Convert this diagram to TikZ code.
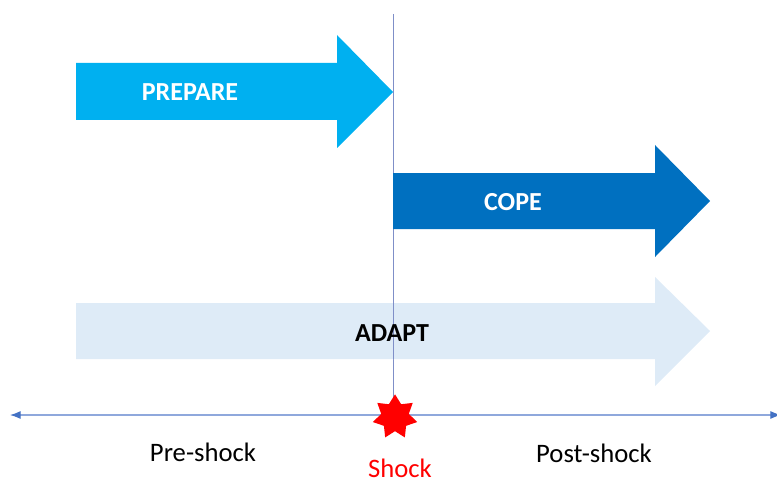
\documentclass[tikz,border=0pt]{standalone}
\usepackage{fontspec}
\setmainfont{Carlito}
\usetikzlibrary{shapes.geometric,arrows.meta}
\definecolor{prep}{HTML}{00B0F0}
\definecolor{cope}{HTML}{0070C0}
\definecolor{adapt}{HTML}{DEEBF7}
\definecolor{axisc}{HTML}{8FA8DC}
\definecolor{vlinec}{HTML}{7F8FC8}
\definecolor{tipc}{HTML}{4472C4}
\tikzset{
  arrowlabel/.style={font=\fontsize{19.5}{22}\selectfont\bfseries, inner sep=0pt},
  axislabel/.style={font=\fontsize{20}{24}\selectfont, inner sep=0pt},
}
\begin{document}
\begin{tikzpicture}[x=0.75pt,y=-0.75pt]
\useasboundingbox (0,0) rectangle (777,481);
% shock line
\coordinate (vtop) at (393,14);
\coordinate (vbot) at (393,415);
\draw[vlinec, line width=0.5pt] (vtop) -- (vbot);
% arrows
\fill[prep] (76,63) -- (337,63) -- (337,35) -- (393,92) -- (337,148) -- (337,120) -- (76,120) -- cycle;
\node[arrowlabel, text=white] (prepare) at (190,92) {PREPARE};
\fill[cope] (393,173) -- (655,173) -- (655,145) -- (710,201) -- (655,257) -- (655,229) -- (393,229) -- cycle;
\node[arrowlabel, text=white] (copel) at (513,202) {COPE};
\fill[adapt] (76,303) -- (655,303) -- (655,277) -- (710,331) -- (655,386) -- (655,359) -- (76,359) -- cycle;
\draw[vlinec, line width=0.5pt] (393,303) -- (393,359);
\node[arrowlabel, text=black] (adaptl) at (392,333) {ADAPT};
% time axis
\coordinate (aL) at (10,415);
\coordinate (aR) at (781,415);
\draw[axisc, line width=0.8pt, {Latex[length=8pt,width=6pt,color=tipc]}-{Latex[length=8pt,width=6pt,color=tipc]}] (aL) -- (aR);
% shock star
\node[star, star points=7, star point ratio=1.6, fill=red, draw=none, minimum size=34pt, inner sep=0pt] (shockstar) at (395,417) {};
% labels
\node[axislabel] (pre) at (203,452) {Pre-shock};
\node[axislabel, text=red] (shock) at (400,468) {Shock};
\node[axislabel] (post) at (594,453) {Post-shock};
\end{tikzpicture}
\end{document}
